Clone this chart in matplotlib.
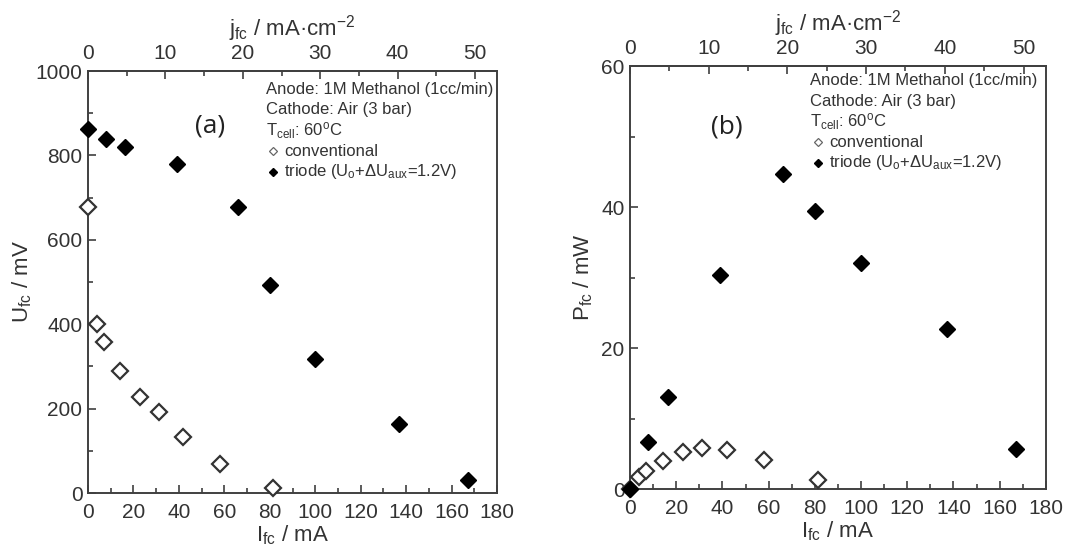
import matplotlib
matplotlib.use("Agg")
import matplotlib.pyplot as plt
from matplotlib.ticker import MultipleLocator

plt.rcParams['font.family'] = ['Liberation Sans', 'DejaVu Sans']
plt.rcParams['mathtext.fontset'] = 'custom'
plt.rcParams['mathtext.rm'] = 'Liberation Sans'
plt.rcParams['mathtext.it'] = 'Liberation Sans'
plt.rcParams['mathtext.default'] = 'regular'

# ---- data ----
I_conv = [0, 3.8, 7.0, 14.1, 22.9, 31.1, 42.0, 57.9, 81.2]
U_conv = [678, 400, 358, 290, 227, 191, 132, 69, 13]
P_conv = [0, 1.65, 2.5, 4.0, 5.25, 5.85, 5.6, 4.1, 1.3]

I_tri = [0, 7.9, 16.3, 39.0, 66.1, 79.9, 99.9, 137.0, 167.1]
U_tri = [862, 840, 819, 780, 678, 494, 318, 164, 32]
P_tri = [0, 6.7, 13.0, 30.4, 44.7, 39.5, 32.1, 22.7, 5.7]

area_cm2 = 3.406  # I (mA) -> j (mA/cm2)

legend_lines = ["Anode: 1M Methanol (1cc/min)",
                "Cathode: Air (3 bar)",
                "T$_{cell}$: 60$^o$C",
                "conventional",
                "triode (U$_o$+\u0394U$_{aux}$=1.2V)"]

TXT = '#333333'
SP = '#404040'

fig = plt.figure(figsize=(10.71, 5.47), dpi=100)
axA = fig.add_axes([0.0822, 0.0987, 0.3819, 0.7715])
axB = fig.add_axes([0.5882, 0.1060, 0.3884, 0.7733])


def style(ax, ymax, ymaj, ymin, ylabel, ylpad):
    ax.set_xlim(0, 180)
    ax.set_ylim(0, ymax)
    ax.xaxis.set_major_locator(MultipleLocator(20))
    ax.xaxis.set_minor_locator(MultipleLocator(10))
    ax.yaxis.set_major_locator(MultipleLocator(ymaj))
    ax.yaxis.set_minor_locator(MultipleLocator(ymin))
    ax.tick_params(which='both', direction='in', top=False, right=False,
                   colors=SP, labelcolor=TXT, labelsize=15, width=1.2)
    ax.tick_params(axis='x', which='major', length=6, pad=7)
    ax.tick_params(axis='y', which='major', length=6, pad=4)
    ax.tick_params(which='minor', length=3.5)
    for s in ax.spines.values():
        s.set_color(SP)
        s.set_linewidth(1.4)
    ax.set_xlabel("I$_{fc}$ / mA", fontsize=16, color=TXT, labelpad=1.5)
    ax.set_ylabel(ylabel, fontsize=16, color=TXT, labelpad=ylpad)
    sec = ax.secondary_xaxis('top', functions=(lambda x: x / area_cm2,
                                               lambda j: j * area_cm2))
    sec.xaxis.set_major_locator(MultipleLocator(10))
    sec.xaxis.set_minor_locator(MultipleLocator(5))
    sec.tick_params(which='both', direction='in', colors=SP, labelcolor=TXT,
                    labelsize=15, width=1.2)
    sec.tick_params(which='major', length=6, pad=6)
    sec.tick_params(which='minor', length=3.5)
    sec.spines['top'].set_color(SP)
    sec.spines['top'].set_linewidth(1.4)
    sec.set_xlabel("j$_{fc}$ / mA\u00b7cm$^{-2}$", fontsize=16, color=TXT,
                   labelpad=6)


def legend(ax, x0, y0, dy):
    for k, line in enumerate(legend_lines):
        if k < 3:
            ax.text(x0, y0 - k * dy, line, transform=ax.transAxes,
                    fontsize=12, color=TXT, va='center', ha='left')
        else:
            ax.text(x0 + 0.044, y0 - k * dy, line, transform=ax.transAxes,
                    fontsize=12, color=TXT, va='center', ha='left')
    ax.plot([x0 + 0.017], [y0 - 3 * dy], 'D', ms=4.5, mfc='white', mec='#666666',
            mew=0.9, transform=ax.transAxes, clip_on=False)
    ax.plot([x0 + 0.017], [y0 - 4 * dy], 'D', ms=4.5, mfc='black', mec='black',
            transform=ax.transAxes, clip_on=False)


# ---- panel (a) ----
style(axA, 1000, 200, 100, "U$_{fc}$ / mV", 1)
axA.plot(I_conv, U_conv, 'D', ms=8, mfc='white', mec='#333333', mew=1.6,
         linestyle='none', clip_on=False, zorder=3)
axA.plot(I_tri, U_tri, 'D', ms=8, mfc='black', mec='black', mew=1,
         linestyle='none', clip_on=False, zorder=4)
legend(axA, 0.435, 0.957, 0.049)
axA.text(0.298, 0.87, "(a)", transform=axA.transAxes, fontsize=19,
         color='#222222', ha='center', va='center',
         family=['Open Sans', 'DejaVu Sans'])

# ---- panel (b) ----
style(axB, 60, 20, 10, "P$_{fc}$ / mW", 4)
axB.plot(I_conv, P_conv, 'D', ms=8, mfc='white', mec='#333333', mew=1.6,
         linestyle='none', clip_on=False, zorder=3)
axB.plot(I_tri, P_tri, 'D', ms=8, mfc='black', mec='black', mew=1,
         linestyle='none', clip_on=False, zorder=4)
legend(axB, 0.434, 0.965, 0.0485)
axB.text(0.232, 0.857, "(b)", transform=axB.transAxes, fontsize=19,
         color='#222222', ha='center', va='center',
         family=['Open Sans', 'DejaVu Sans'])

fig.savefig("out.png", dpi=100)
